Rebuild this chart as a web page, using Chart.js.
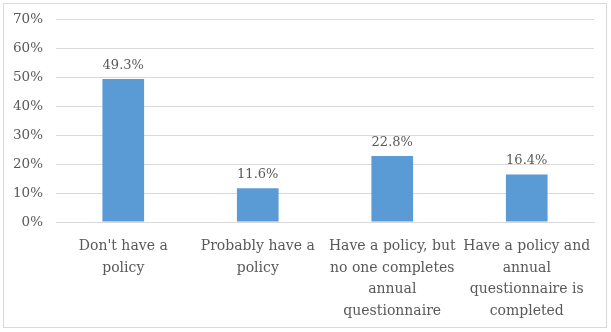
<!DOCTYPE html>
<html>
<head>
<meta charset="utf-8">
<script src="https://cdn.jsdelivr.net/npm/chart.js@4/dist/chart.umd.min.js"></script>
<style>
  html, body { margin: 0; padding: 0; background: #fff; }
  #wrap {
    position: absolute;
    left: 3px;
    top: 3px;
    width: 602px;
    height: 323px;
    border: 1px solid #d9d9d9;
  }
</style>
</head>
<body>
<div id="wrap"><canvas id="policyChart"></canvas></div>
<script>
const categories = [
  ["Don't have a", "policy"],
  ["Probably have a", "policy"],
  ["Have a policy, but", "no one completes", "annual", "questionnaire"],
  ["Have a policy and", "annual", "questionnaire is", "completed"],
];
const shares = [49.3, 11.6, 22.8, 16.4];
const yTicks = [0, 10, 20, 30, 40, 50, 60, 70];

const textColor = "#595959";
const fontFamily = "'DejaVu Serif', serif";

// draws the value above each bar
const valueLabels = {
  id: "valueLabels",
  afterDatasetsDraw(chart) {
    const ctx = chart.ctx;
    const meta = chart.getDatasetMeta(0);
    ctx.save();
    ctx.font = "13px " + fontFamily;
    ctx.fillStyle = textColor;
    ctx.textAlign = "center";
    ctx.textBaseline = "alphabetic";
    meta.data.forEach((bar, i) => {
      ctx.fillText(shares[i].toFixed(1) + "%", bar.x, bar.y - 10);
    });
    ctx.restore();
  },
};

const ctx = document.getElementById("policyChart").getContext("2d");
const policyChart = new Chart(ctx, {
  type: "bar",
  data: {
    labels: categories,
    datasets: [
      {
        data: shares,
        backgroundColor: "#5b9bd5",
        categoryPercentage: 1,
        barPercentage: 0.31,
      },
    ],
  },
  options: {
    responsive: true,
    maintainAspectRatio: false,
    animation: false,
    layout: { padding: { top: 15, right: 12, left: 0, bottom: 0 } },
    plugins: {
      legend: { display: false },
      tooltip: { enabled: false },
    },
    scales: {
      y: {
        min: 0,
        max: 70,
        afterFit: (s) => {
          s.width = 52;
          s.paddingTop = 0;
          s.paddingBottom = 0;
        },
        afterBuildTicks: (s) => { s.ticks = yTicks.map((v) => ({ value: v })); },
        border: { display: false },
        grid: { color: "#d9d9d9", drawTicks: false },
        ticks: {
          padding: 13,
          color: textColor,
          font: { family: fontFamily, size: 13.5 },
          callback: (v) => v + "%",
        },
      },
      x: {
        afterFit: (s) => { s.height = 105; },
        border: { color: "#d9d9d9" },
        grid: { display: false, drawTicks: false },
        ticks: {
          padding: 14,
          maxRotation: 0,
          autoSkip: false,
          color: textColor,
          font: { family: fontFamily, size: 14, lineHeight: 1.53 },
        },
      },
    },
  },
  plugins: [valueLabels],
});
</script>
</body>
</html>
